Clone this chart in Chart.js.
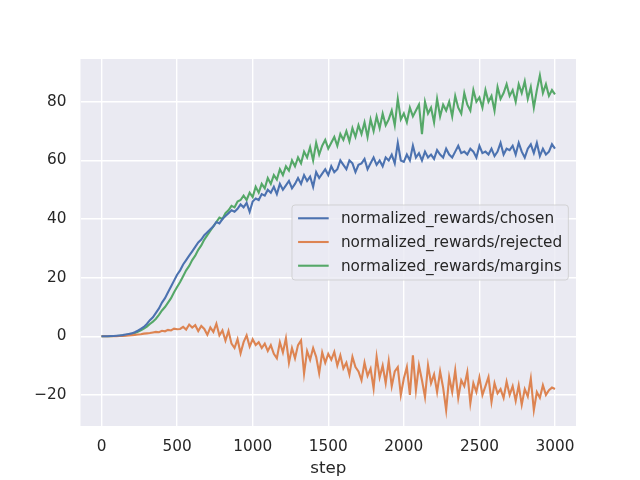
<!DOCTYPE html>
<html>
<head>
<meta charset="utf-8">
<script src="https://cdn.jsdelivr.net/npm/chart.js@4/dist/chart.umd.min.js"></script>
<style>
  html, body { margin: 0; padding: 0; background: #fff; }
  #wrap { width: 640px; height: 480px; }
</style>
</head>
<body>
<div id="wrap"><canvas id="chart"></canvas></div>
<script>
const stepEvery = 20;
const xTicks = [0, 500, 1000, 1500, 2000, 2500, 3000];
const yTicks = [-20, 0, 20, 40, 60, 80];

const chosen = [
  0, 0, 0, 0.1, 0.1, 0.2, 0.3, 0.4,
  0.6, 0.8, 1.0, 1.4, 1.9, 2.5, 3.2, 4.2,
  5.5, 6.5, 8, 9.5, 11.5, 13, 15, 17, 19, 21,
  22.5, 24.5, 26, 27.5, 29, 30.5, 32, 33, 34.5, 35.5,
  36.5, 37.5, 39, 38.5, 40, 41, 42, 43, 42.5, 43.5,
  45, 44, 45.5, 42.5, 46, 47, 46.5, 48.5, 48, 50,
  49, 51, 48.5, 52, 50, 51.5, 53, 50.5, 52, 54,
  52, 55, 53, 54.5, 51, 56, 54, 55.5, 57, 55,
  58, 56, 57, 60, 58.5, 57, 60, 59, 56, 58.5,
  59, 60.5, 57, 59, 61, 58.5, 60, 58, 61, 60,
  62, 59, 66, 60, 59.5, 62, 60, 65, 61, 62.5,
  60, 63, 61, 62, 60.5, 63.5, 62, 61, 64, 62,
  61, 63, 65, 62.5, 63, 62, 64, 63, 61, 65,
  62.5, 63, 62, 64, 61.5, 63, 66, 62, 64, 63.5,
  65, 62, 66, 63, 61, 64, 65.5, 62.5, 66, 61.5,
  64, 62, 63, 65.5, 64,
];

const rejected = [
  0, 0, 0, 0, 0, 0, 0.1, 0.1,
  0.2, 0.3, 0.4, 0.5, 0.6, 0.7, 0.9, 1.0,
  1.1, 1.3, 1.5, 1.4, 1.9, 1.7, 2.2, 2.0, 2.6, 2.4,
  2.5, 3.2, 2.3, 4.0, 3.0, 3.8, 1.8, 3.5, 2.5, 0.5,
  3.0, 1.5, 4.3, 0.3, 2.0, -1.5, 1.8, -2.5, -4.0, -1.0,
  -5.8, -2.0, 0.3, -3.5, -1.0, -3.0, -2.0, -4.0, -2.5, -5.0,
  -3.0, -6.0, -7.5, -2.0, -5.5, -0.7, -9.0, -4.0, -7.5, -3.0,
  -1.4, -12.7, -5.0, -8.0, -4.0, -7.0, -12.6, -5.5, -9.0, -6.0,
  -8.0, -5.3, -10.0, -6.5, -11.0, -9.0, -13.0, -7.0, -10.5, -12.0,
  -15.0, -9.0, -13.5, -11.0, -17.8, -7.0, -14.0, -10.0, -16.0, -8.5,
  -17.0, -12.0, -10.5, -20.0, -14.4, -10.5, -20.0, -6.5, -18.4, -9.9,
  -15.0, -20.7, -9.9, -16.0, -13.0, -19.0, -12.0, -17.5, -25.2, -13.9,
  -19.0, -11.6, -21.0, -15.0, -17.0, -12.2, -22.9, -16.0, -19.0, -14.0,
  -20.0, -17.0, -13.9, -22.4, -16.0, -19.5, -18.0, -21.0, -15.5, -20.0,
  -17.0, -22.0, -16.7, -23.3, -18.0, -20.5, -14.4, -25.2, -19.0, -21.0,
  -16.7, -20.0, -18.4, -17.5, -18.0,
];

const margins = [
  0, 0, 0, 0, 0.1, 0.1, 0.2, 0.3,
  0.4, 0.6, 0.8, 1.1, 1.5, 2.0, 2.6, 3.3,
  4.2, 5.0, 6.0, 7.3, 8.8, 10, 11.5, 13, 15, 16.8,
  18.5, 20.5, 22.5, 24, 26, 27.5, 29.5, 31, 33, 34.5,
  36, 37.5, 39, 40.5, 40, 42, 43, 44.5, 44, 46,
  46.5, 48, 46.5, 49, 47.5, 51, 49, 52, 50.5, 54,
  52, 55, 53.5, 57, 55, 58, 56.5, 60, 58, 61,
  59, 63, 61, 64.5, 60, 66, 62, 65, 67, 64,
  66, 68, 65, 69, 67, 70, 66.5, 71, 68, 72,
  69, 73, 68, 74, 70, 75, 71, 76, 72, 74,
  77, 72, 81, 74, 76, 73, 78, 75, 77, 79,
  69, 80, 76, 78, 73, 81, 75, 79, 77, 80,
  75, 82, 78, 76, 83, 79, 77, 84, 80, 81.5,
  78, 84, 80, 82, 77, 85, 81, 83, 86, 82,
  84, 80, 86, 83, 87, 81, 85, 78, 84, 89,
  83, 86, 82, 84, 82.5,
];

const seriesNames = ['normalized_rewards/chosen', 'normalized_rewards/rejected', 'normalized_rewards/margins'];
const seriesColors = ['#4C72B0', '#DD8452', '#55A868'];

// ─── Helpers ──────────────────────────────────────────────────────────────────
const FONT = '"DejaVu Sans", Verdana, sans-serif';
const TEXT = '#262626';
const toPoints = arr => arr.map((v, i) => ({ x: i * stepEvery, y: v }));
const fmtNum = v => (v < 0 ? '\u2212' + Math.abs(v) : String(v));

// grey plot panel like seaborn darkgrid
const plotBg = {
  id: 'plotBg',
  beforeDraw(chart) {
    const { ctx, chartArea: a } = chart;
    ctx.save();
    ctx.fillStyle = '#EAEAF2';
    ctx.fillRect(a.left, a.top, a.width, a.height);
    ctx.restore();
  },
};

// matplotlib-ish legend, "center right" inside the axes
const boxLegend = {
  id: 'boxLegend',
  afterDatasetsDraw(chart) {
    const { ctx, chartArea: a } = chart;
    const fs = 15.3;
    const pad = 0.4 * fs, handle = 2.0 * fs, gap = 0.8 * fs, rowH = 1.55 * fs;
    const n = chart.data.datasets.length;
    ctx.save();
    ctx.font = `${fs}px ${FONT}`;
    const textW = Math.max(...chart.data.datasets.map(d => ctx.measureText(d.label).width));
    const w = pad * 2 + handle + gap + textW;
    const h = 4.9 * fs;
    const x = a.right - 0.5 * fs - w;
    const y = (a.top + a.bottom) / 2 - h / 2;

    ctx.beginPath();
    ctx.roundRect(x, y, w, h, 3);
    ctx.fillStyle = 'rgba(234,234,242,0.8)';
    ctx.fill();
    ctx.lineWidth = 1;
    ctx.strokeStyle = 'rgba(204,204,204,0.8)';
    ctx.stroke();

    ctx.textBaseline = 'middle';
    ctx.textAlign = 'left';
    chart.data.datasets.forEach((d, i) => {
      const cy = y + h / 2 + (i - (n - 1) / 2) * rowH - 0.5;
      ctx.beginPath();
      ctx.moveTo(x + pad, cy);
      ctx.lineTo(x + pad + handle, cy);
      ctx.strokeStyle = d.borderColor;
      ctx.lineWidth = 2.1;
      ctx.stroke();
      ctx.fillStyle = TEXT;
      ctx.fillText(d.label, x + pad + handle + gap, cy + 1);
    });
    ctx.restore();
  },
};

// ─── Chart ────────────────────────────────────────────────────────────────────
const ctx = document.getElementById('chart').getContext('2d');
new Chart(ctx, {
  type: 'line',
  data: {
    datasets: [chosen, rejected, margins].map((arr, i) => ({
      label: seriesNames[i],
      data: toPoints(arr),
      borderColor: seriesColors[i],
      backgroundColor: seriesColors[i],
      borderWidth: 2.1,
      pointRadius: 0,
      tension: 0,
      fill: false,
    })),
  },
  options: {
    responsive: true, maintainAspectRatio: false,
    animation: false,
    devicePixelRatio: 1,
    layout: { padding: { top: 59, right: 64, bottom: 0, left: 0 } },
    plugins: { legend: { display: false }, tooltip: { enabled: false } },
    scales: {
      x: {
        type: 'linear', min: -139, max: 3139,
        afterBuildTicks: s => { s.ticks = xTicks.map(v => ({ value: v })); },
        afterFit: s => { s.height = 54; },
        grid: { color: '#ffffff', lineWidth: 1.4, drawTicks: false },
        border: { display: false },
        ticks: { color: TEXT, font: { family: FONT, size: 15.3 }, padding: 12, maxRotation: 0, callback: v => fmtNum(v) },
        title: { display: true, text: 'step', color: TEXT, font: { family: FONT, size: 16.7 }, padding: { top: 0, bottom: 1 } },
      },
      y: {
        type: 'linear', min: -30.6, max: 94.6,
        afterBuildTicks: s => { s.ticks = yTicks.map(v => ({ value: v })); },
        afterFit: s => { s.width = 80.5; },
        grid: { color: '#ffffff', lineWidth: 1.4, drawTicks: false },
        border: { display: false },
        ticks: { color: TEXT, font: { family: FONT, size: 15.3 }, padding: 14, callback: v => fmtNum(v) },
      },
    },
  },
  plugins: [plotBg, boxLegend],
});
</script>
</body>
</html>
